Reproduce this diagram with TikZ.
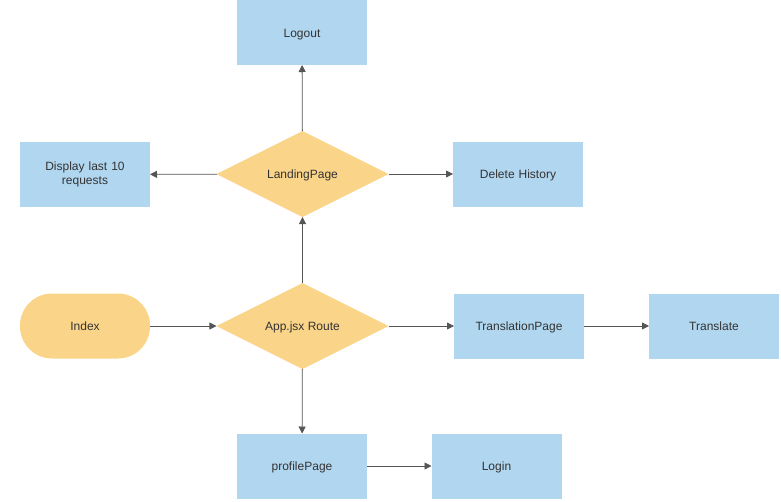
\documentclass[tikz,border=0pt]{standalone}
\usepackage{fontspec}
\setmainfont{Liberation Sans}
\usetikzlibrary{shapes.geometric,arrows.meta}
\definecolor{boxblue}{HTML}{B1D6EF}
\definecolor{deco}{HTML}{FAD488}
\definecolor{txt}{HTML}{333333}
\definecolor{edge}{HTML}{555555}
\begin{document}
\begin{tikzpicture}[x=1pt,y=-1pt,
  every node/.style={font=\fontsize{12}{14}\selectfont, text=txt, inner sep=0pt, outer sep=0pt},
  one/.style={text height=9.5pt, text depth=0pt},
  bbox/.style={rectangle, fill=boxblue, minimum width=130pt, minimum height=65pt, align=center, text width=110pt},
  dia/.style={diamond, fill=deco, minimum width=172pt, minimum height=86pt, aspect=2},
  term/.style={rectangle, rounded corners=32pt, fill=deco, minimum width=130pt, minimum height=65pt},
  conn/.style={draw=edge, line width=0.8pt, -{Triangle[length=7pt,width=7pt]}}]
\useasboundingbox (0,0) rectangle (781,501);
\node[bbox,one] (logout) at (302,32.5) {Logout};
\node[dia,one] (landing) at (302.5,174) {LandingPage};
\node[bbox] (display) at (85,174.5) {Display last 10\\requests};
\node[bbox,one] (delete) at (518,174) {Delete History};
\node[term,one] (index) at (85,326) {Index};
\node[dia,one] (app) at (302.5,326) {App.jsx Route};
\node[bbox,one] (transpage) at (519,326) {TranslationPage};
\node[bbox,one] (translate) at (714,326) {Translate};
\node[bbox,one] (profile) at (302,466) {profilePage};
\node[bbox,one] (login) at (496.5,466) {Login};
\draw[conn] (index) -- (app);
\draw[conn] (app) -- (transpage);
\draw[conn] (transpage) -- (translate);
\draw[conn] (app) -- (landing);
\draw[conn] (app) -- (profile);
\draw[conn] (profile) -- (login);
\draw[conn] (landing) -- (logout);
\draw[conn] (landing) -- (display);
\draw[conn] (landing) -- (delete);
\end{tikzpicture}
\end{document}
